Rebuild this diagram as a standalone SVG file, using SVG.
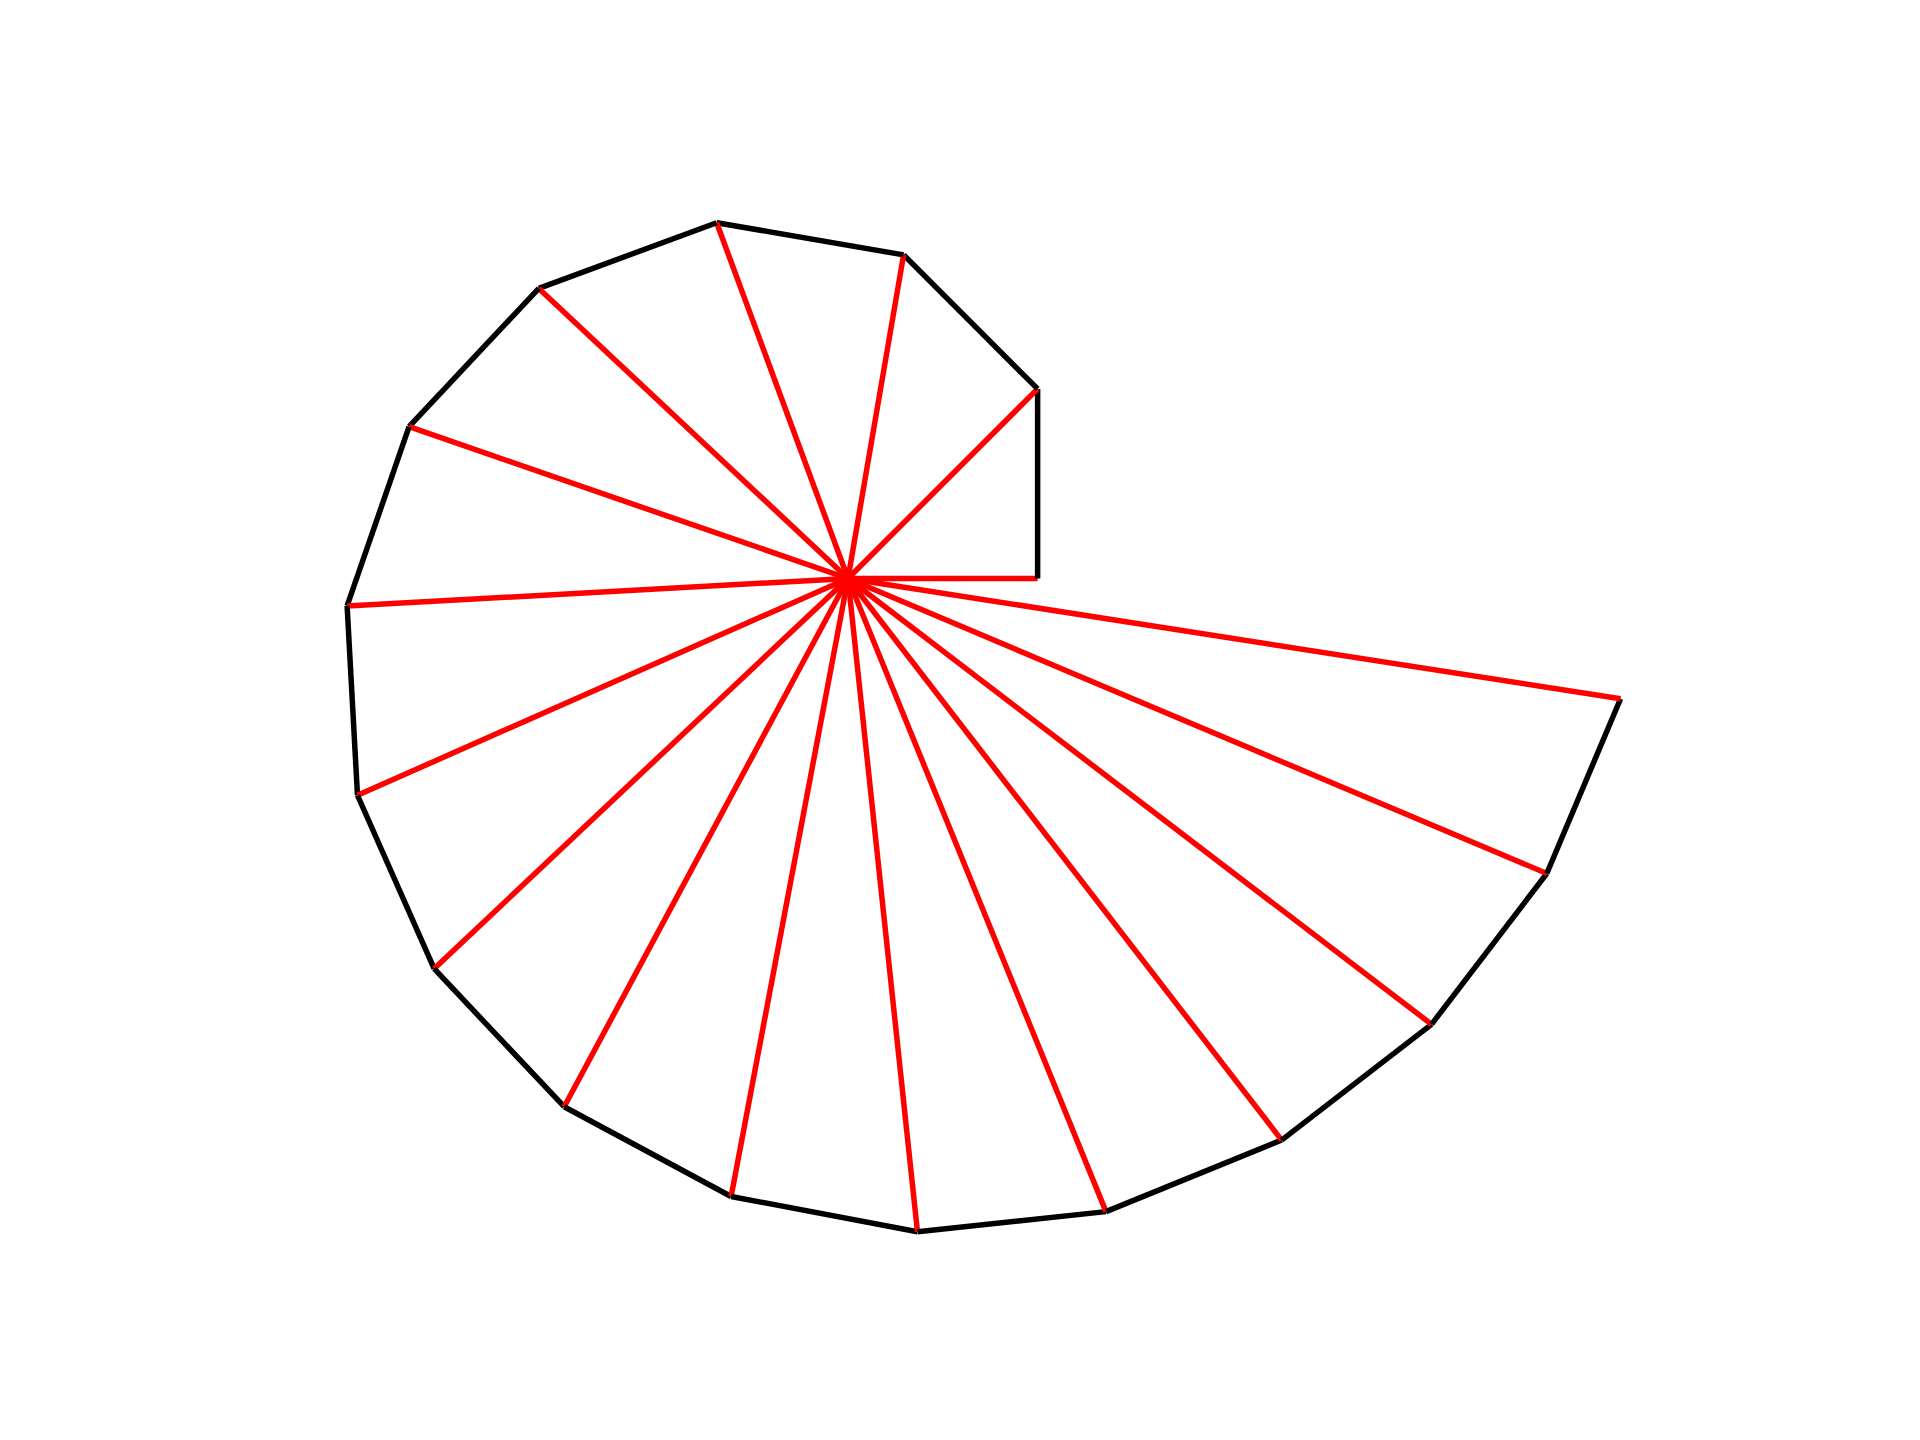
<svg xmlns="http://www.w3.org/2000/svg" width="1920" height="1440" viewBox="0 0 1920 1440">
<style>
.b{stroke:#000;stroke-width:5.5;fill:none;stroke-linecap:butt}
.r{stroke:#f00;stroke-width:5.5;fill:none;stroke-linecap:butt}
</style>
<rect width="1920" height="1440" fill="#fff"/>
<g id="connectors" transform="translate(848 578.5) scale(0.998) translate(-848 -578)">
<line class="r" x1="848" y1="578" x2="1038" y2="578"/>
<line class="b" x1="1038" y1="578" x2="1038" y2="388"/>
<line class="r" x1="848" y1="578" x2="1038" y2="388"/>
<line class="b" x1="1038" y1="388" x2="903.7" y2="253.7"/>
<line class="r" x1="848" y1="578" x2="903.7" y2="253.7"/>
<line class="b" x1="903.7" y1="253.7" x2="716.4" y2="221.5"/>
<line class="r" x1="848" y1="578" x2="716.4" y2="221.5"/>
<line class="b" x1="716.4" y1="221.5" x2="538.2" y2="287.3"/>
<line class="r" x1="848" y1="578" x2="538.2" y2="287.3"/>
<line class="b" x1="538.2" y1="287.3" x2="408.2" y2="425.9"/>
<line class="r" x1="848" y1="578" x2="408.2" y2="425.9"/>
<line class="b" x1="408.2" y1="425.9" x2="346.1" y2="605.5"/>
<line class="r" x1="848" y1="578" x2="346.1" y2="605.5"/>
<line class="b" x1="346.1" y1="605.5" x2="356.5" y2="795.2"/>
<line class="r" x1="848" y1="578" x2="356.5" y2="795.2"/>
<line class="b" x1="356.5" y1="795.2" x2="433.3" y2="969.0"/>
<line class="r" x1="848" y1="578" x2="433.3" y2="969.0"/>
<line class="b" x1="433.3" y1="969.0" x2="563.6" y2="1107.3"/>
<line class="r" x1="848" y1="578" x2="563.6" y2="1107.3"/>
<line class="b" x1="563.6" y1="1107.3" x2="730.9" y2="1197.2"/>
<line class="r" x1="848" y1="578" x2="730.9" y2="1197.2"/>
<line class="b" x1="730.9" y1="1197.2" x2="917.6" y2="1232.5"/>
<line class="r" x1="848" y1="578" x2="917.6" y2="1232.5"/>
<line class="b" x1="917.6" y1="1232.5" x2="1106.5" y2="1212.4"/>
<line class="r" x1="848" y1="578" x2="1106.5" y2="1212.4"/>
<line class="b" x1="1106.5" y1="1212.4" x2="1282.5" y2="1140.7"/>
<line class="r" x1="848" y1="578" x2="1282.5" y2="1140.7"/>
<line class="b" x1="1282.5" y1="1140.7" x2="1432.7" y2="1024.7"/>
<line class="r" x1="848" y1="578" x2="1432.7" y2="1024.7"/>
<line class="b" x1="1432.7" y1="1024.7" x2="1548.2" y2="873.6"/>
<line class="r" x1="848" y1="578" x2="1548.2" y2="873.6"/>
<line class="b" x1="1548.2" y1="873.6" x2="1622.1" y2="698.5"/>
<line class="r" x1="848" y1="578" x2="1622.1" y2="698.5"/>
</g>
</svg>
